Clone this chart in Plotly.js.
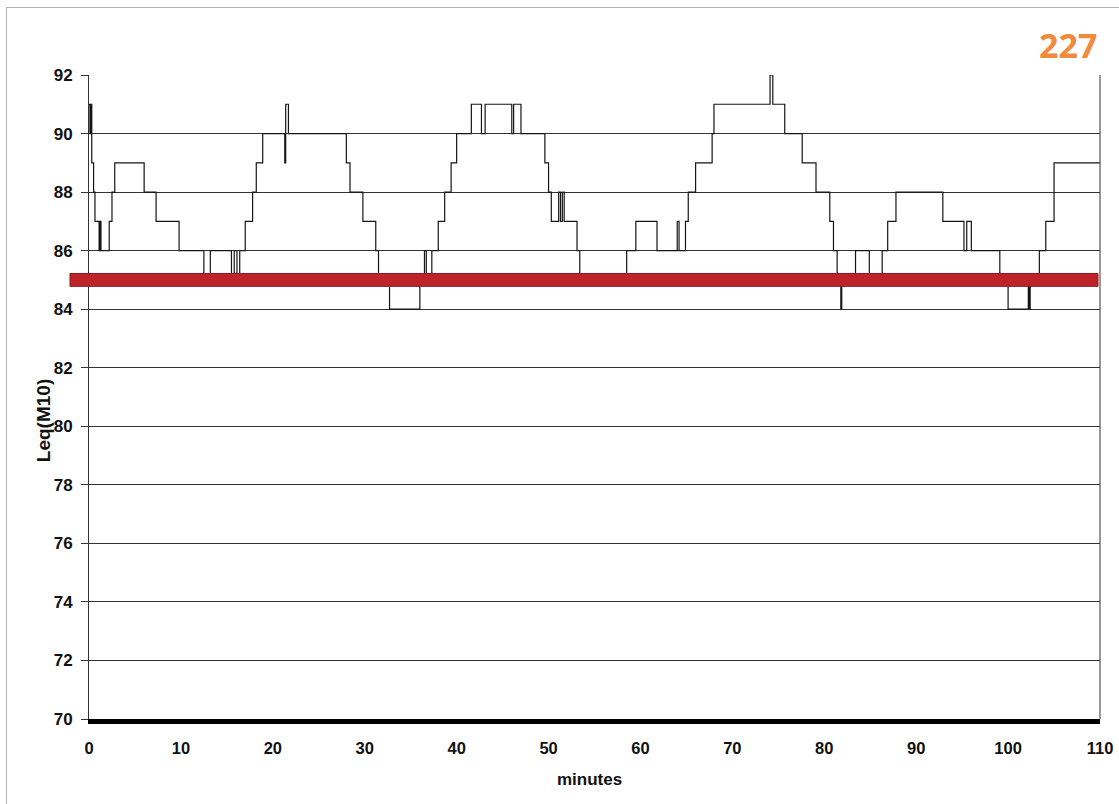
<!DOCTYPE html>
<html>
<head>
<meta charset="utf-8">
<script src="https://cdn.plot.ly/plotly-3.0.1.min.js"></script>
<style>
  html, body { margin: 0; padding: 0; background: #fff; }
  #wrap { position: relative; width: 1119px; height: 804px; }
  #chart { position: absolute; left: 0; top: 0; width: 1119px; height: 804px; }
  #frame { position: absolute; left: 6px; top: 7px; right: 0; bottom: 0;
           border-top: 1px solid #b0b0b0; border-left: 1px solid #b0b0b0; pointer-events: none; }
</style>
</head>
<body>
<div id="wrap">
  <div id="chart"></div>
  <div id="frame"></div>
</div>
<script>
// Step series: each level holds from its minute until the next minute
const minutes = [
  0, 0.1, 0.2, 0.3, 0.5, 0.65, 1.1, 1.2, 1.3, 2.2, 2.5, 2.8, 6.0, 7.3, 9.8,
  12.5, 13.2, 15.5, 15.8, 16.1, 16.4, 17.0, 17.8, 18.2, 18.9,
  21.3, 21.4, 21.7, 28.0, 28.4, 29.8, 31.2, 31.5, 32.7, 36.0, 36.5, 36.7, 37.3,
  38.0, 38.7, 39.4, 40.0, 41.6, 42.7, 43.1, 46.0, 46.2, 47.0,
  49.6, 50.0, 50.3, 51.1, 51.3, 51.5, 51.7, 52.7, 53.1, 53.4,
  58.5, 59.5, 61.8, 64.0, 64.2, 64.9, 65.2, 66.0, 67.8, 68.0,
  74.1, 74.4, 75.7, 77.6, 79.1, 80.6, 81.0, 81.4, 81.8, 81.9,
  83.4, 84.9, 86.3, 86.9, 87.8, 92.9, 95.2, 95.5, 96.0,
  99.1, 100.0, 102.2, 102.3, 102.4, 103.4, 104.1, 105.0, 110
];
const leq = [
  91, 90, 91, 89, 88, 87, 86, 87, 86, 87, 88, 89, 88, 87, 86,
  85, 86, 85, 86, 85, 86, 87, 88, 89, 90,
  89, 91, 90, 89, 88, 87, 86, 85, 84, 85, 86, 85, 86,
  87, 88, 89, 90, 91, 90, 91, 90, 91, 90,
  89, 88, 87, 88, 87, 88, 87, 87, 86, 85,
  86, 87, 86, 87, 86, 87, 88, 89, 90, 91,
  92, 91, 90, 89, 88, 87, 86, 85, 84, 85,
  86, 85, 86, 87, 88, 87, 86, 87, 86,
  85, 84, 85, 84, 85, 86, 87, 89, 89
];
const limitLevel = 85;
const yTicks = [70, 72, 74, 76, 78, 80, 82, 84, 86, 88, 90, 92];
const xTicks = [0, 10, 20, 30, 40, 50, 60, 70, 80, 90, 100, 110];
const pageNumber = '227';

const font = { family: 'Liberation Sans, Arial, sans-serif', color: '#111' };

const trace = {
  x: minutes, y: leq, type: 'scatter', mode: 'lines',
  line: { shape: 'hv', color: '#151515', width: 1.2 },
  hoverinfo: 'x+y', showlegend: false
};

const layout = {
  width: 1119, height: 804,
  margin: { l: 89, r: 19, t: 75, b: 85 },
  paper_bgcolor: '#fff', plot_bgcolor: '#fff',
  font: font,
  showlegend: false,
  xaxis: {
    range: [0, 110], tickvals: xTicks, ticktext: xTicks.map(String),
    showgrid: false, zeroline: false,
    showline: true, linecolor: '#000', linewidth: 5, mirror: false,
    ticks: '', ticklabelstandoff: 10,
    tickfont: { family: font.family, size: 16.5, color: '#111', weight: 'bold' }
  },
  yaxis: {
    range: [70, 92], tickvals: yTicks, ticktext: yTicks.map(String),
    showgrid: true, gridcolor: '#333', gridwidth: 1,
    zeroline: false,
    showline: true, linecolor: '#333', linewidth: 1,
    ticks: 'outside', ticklen: 7, tickcolor: '#333', tickwidth: 1,
    ticklabelstandoff: 5,
    tickfont: { family: font.family, size: 17, color: '#111', weight: 'bold' }
  },
  shapes: [
    { type: 'line', xref: 'paper', yref: 'paper', x0: 1, x1: 1, y0: 0, y1: 1,
      line: { color: '#333', width: 1 } },
    { type: 'rect', xref: 'paper', yref: 'y', layer: 'above',
      x0: -0.0188, x1: 0.998, y0: limitLevel - 0.22, y1: limitLevel + 0.22,
      fillcolor: '#bd2329', line: { color: '#8a1a1e', width: 1 } }
  ],
  annotations: [
    { text: pageNumber, xref: 'paper', yref: 'paper', x: 0.968, y: 1.047,
      xanchor: 'center', yanchor: 'middle', showarrow: false,
      font: { family: 'Open Sans, sans-serif', size: 34, color: '#f08a3c', weight: 'bold' } },
    { text: 'Leq(M10)', xref: 'paper', yref: 'paper', x: -0.0455, y: 0.464,
      xanchor: 'center', yanchor: 'middle', textangle: -90, showarrow: false,
      font: { family: font.family, size: 19, color: '#111', weight: 'bold' } },
    { text: 'minutes', xref: 'paper', yref: 'paper', x: 0.4946, y: -0.0947,
      xanchor: 'center', yanchor: 'middle', showarrow: false,
      font: { family: font.family, size: 17, color: '#111', weight: 'bold' } }
  ]
};

Plotly.newPlot('chart', [trace], layout, { displayModeBar: false, staticPlot: true });
</script>
</body>
</html>
